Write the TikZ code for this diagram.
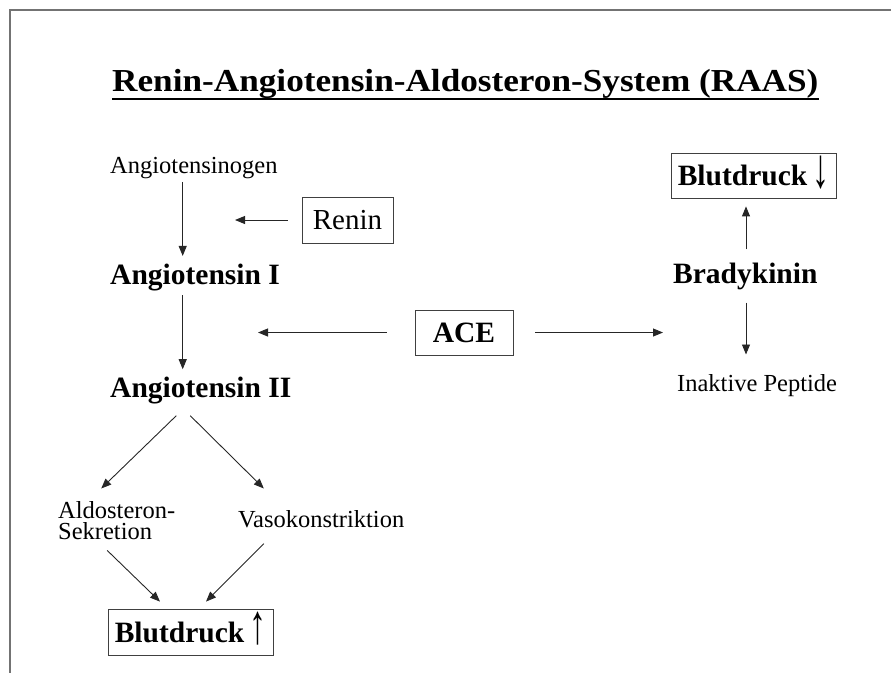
\documentclass[tikz,border=0pt]{standalone}
\usepackage{fontspec}
\setmainfont{Liberation Serif}
\newfontfamily\titlefont[FakeStretch=1.1]{Liberation Serif}
\usetikzlibrary{arrows.meta,calc}
\newcommand{\tallarrow}[1]{\smash{\raisebox{-1.5pt}{\scalebox{1.15}[1.9]{\mdseries #1}}}}
\begin{document}
\begin{tikzpicture}[x=1pt,y=-1pt,
  smallfont/.style={font=\fontsize{24.5}{21}\selectfont},
  bigfont/.style={font=\fontsize{29.5}{30}\selectfont\bfseries},
  small/.style={inner sep=0pt, anchor=base west, smallfont},
  big/.style={inner sep=0pt, anchor=base west, bigfont},
  boxed/.style={draw=black!75, line width=0.8pt, inner sep=0pt},
  arr/.style={draw=black!85, line width=0.9pt, -{Triangle[length=10pt,width=8pt]}},
]
\useasboundingbox (0,0) rectangle (891,673);
\draw[black!55, line width=1.5pt] (891,10) -- (10,10) -- (10,673);

% title
\node[inner sep=0pt, anchor=base west, font=\titlefont\fontsize{32}{36}\selectfont\bfseries] (title) at (112,91.7) {Renin-Angiotensin-Aldosteron-System (RAAS)};
\draw[line width=2.6pt] ([yshift=-7.3pt]title.base west) -- ([yshift=-7.3pt]title.base east);

% left column
\node[small] (agen) at (110,173) {Angiotensinogen};
\node[big] (ang1) at (110,284) {Angiotensin I};
\node[big] (ang2) at (110,397) {Angiotensin II};
\node[boxed, minimum width=91pt, minimum height=46pt, font=\fontsize{29}{30}\selectfont] (renin) at (347.5,220) {Renin};
\node[small, align=left] (aldo) at (58,539) {Aldosteron-\\Sekretion};
\node[small] (vaso) at (238,527) {Vasokonstriktion};
\node[boxed, bigfont, minimum width=165pt, minimum height=46pt] (bd2) at (190.5,632) {Blutdruck\,\tallarrow{↑}};

% centre
\node[boxed, bigfont, minimum width=98pt, minimum height=45pt] (ace) at (464,332.5) {ACE};

% right column
\node[boxed, bigfont, minimum width=165pt, minimum height=45pt] (bd1) at (753.5,175.5) {Blutdruck\,\tallarrow{↓}};
\node[big] (brady) at (673,283) {Bradykinin};
\node[small] (inak) at (677,391) {Inaktive Peptide};

% helper coordinates
\coordinate (colL) at (182.7,0);
\coordinate (colR) at (746,0);
\coordinate (reninTip) at (235,0);
\coordinate (aceL) at (258,0);
\coordinate (aceR) at (663,0);

% connectors
\draw[arr, shorten <=3.4pt, shorten >=7.4pt] (colL |- agen.south) -- (colL |- ang1.north);
\draw[arr, shorten <=4.6pt, shorten >=7.1pt] (colL |- ang1.south) -- (colL |- ang2.north);
\draw[arr, shorten <=14pt] (renin.west) -- (renin.west -| reninTip);
\draw[arr, shorten <=28pt] (ace.west) -- (ace.west -| aceL);
\draw[arr, shorten <=22pt] (ace.east) -- (ace.east -| aceR);
\draw[arr, shorten <=13pt, shorten >=8pt] (colR |- brady.north) -- (colR |- bd1.south);
\draw[arr, shorten <=13pt, shorten >=19.3pt] (colR |- brady.south) -- (colR |- inak.north);
\draw[arr] ($(ang2.south)+(-24.5,12)$) -- ($(aldo.north)+(-15.5,-12.3)$);
\draw[arr] ($(ang2.south)+(-10.5,12)$) -- ($(vaso.north)+(-57.4,-21.3)$);
\draw[arr] ($(aldo.south)+(-9.5,11)$) -- ($(bd2.north)+(-30.5,-7)$);
\draw[arr] ($(vaso.south)+(-57.4,16)$) -- ($(bd2.north)+(15.5,-7)$);
\end{tikzpicture}
\end{document}
